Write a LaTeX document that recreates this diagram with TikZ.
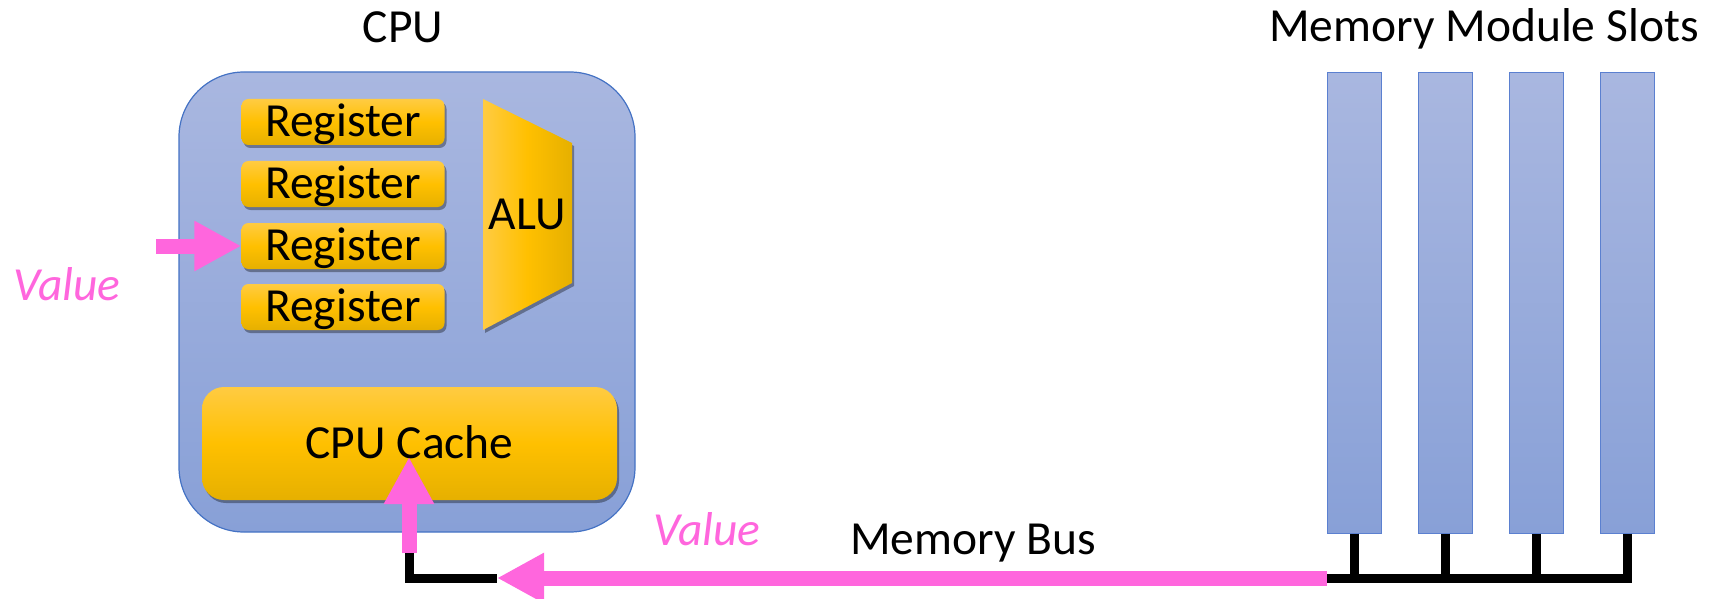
\documentclass[tikz,border=0pt]{standalone}
\usepackage{fontspec}
\setmainfont{Carlito}
\usetikzlibrary{arrows.meta,shadows,calc}
\definecolor{cpuTop}{HTML}{A9B7E0}
\definecolor{cpuBot}{HTML}{88A0D7}
\definecolor{edgeblue}{HTML}{4472C4}
\definecolor{slotedge}{HTML}{5B80D0}
\definecolor{goldTop}{HTML}{FFCB42}
\definecolor{goldMid}{HTML}{FFC000}
\definecolor{goldBot}{HTML}{E6B000}
\definecolor{pinkv}{HTML}{FF66DD}
\begin{document}
\begin{tikzpicture}[x=1pt,y=-1pt,
  lbl/.style={font=\fontsize{47.5}{52}\selectfont, inner sep=0pt},
  valtxt/.style={font=\fontsize{47.5}{52}\selectfont\itshape, text=pinkv, inner sep=0pt},
  cpubox/.style={draw=edgeblue, line width=1.2pt, top color=cpuTop, bottom color=cpuBot, rounded corners=65pt},
  goldshadow/.style={drop shadow={shadow xshift=2pt, shadow yshift=-3pt, opacity=0.35, fill=black}},
  regbox/.style={goldshadow, top color=goldTop, bottom color=goldBot, middle color=goldMid, rounded corners=7pt,
    minimum width=203pt, minimum height=46pt, inner sep=0pt, text height=29pt, text depth=0pt,
    font=\fontsize{47.5}{52}\selectfont},
  cachebox/.style={goldshadow, top color=goldTop, bottom color=goldBot, middle color=goldMid, rounded corners=22pt,
    minimum width=415pt, minimum height=113pt, inner sep=0pt, text height=29pt, text depth=0pt,
    font=\fontsize{47.5}{52}\selectfont},
  slotbox/.style={draw=slotedge, line width=1pt, top color=cpuTop, bottom color=cpuBot,
    minimum width=54pt, minimum height=460pt, inner sep=0pt},
  pinkarrow/.style={draw=pinkv, line width=15pt, -{Triangle[length=47pt, width=47pt]}},
  busline/.style={draw=black, line width=9pt},
]
\useasboundingbox (0,0) rectangle (1709,599);

% titles
\node[lbl, anchor=base] (cputitle) at (403,43) {CPU};
\node[lbl, anchor=base] (memtitle) at (1484,42) {Memory Module Slots};

% CPU
\node[cpubox, minimum width=456pt, minimum height=460pt] (cpu) at (407,302) {};
\node[regbox] (r1) at (343,122) {Register};
\node[regbox] (r2) at (343,184) {Register};
\node[regbox] (r3) at (343,246) {Register};
\node[regbox] (r4) at (343,307) {Register};
\path[goldshadow, left color=goldTop, right color=goldBot, middle color=goldMid]
  (483,99) -- (572,143) -- (572,283) -- (483,330) -- cycle;
\node[lbl] (alu) at (527,214) {ALU};
\node[cachebox] (cache) at (409.5,443.5) {CPU Cache};

% memory slots
\node[slotbox] (s1) at (1354,303) {};
\node[slotbox] (s2) at (1445.5,303) {};
\node[slotbox] (s3) at (1536,303) {};
\node[slotbox] (s4) at (1627.5,303) {};

\coordinate (busY) at (0,578);
\draw[busline] (s1.south) -- (s1.south|-busY);
\draw[busline] (s2.south) -- (s2.south|-busY);
\draw[busline] (s3.south) -- (s3.south|-busY);
\draw[busline] (s4.south) |- (s1.south west|-busY);

% value path
\coordinate (vin) at (156,246);
\draw[pinkarrow] (vin) -- (r3.west);
\node[valtxt, anchor=base] (v1) at (67,300) {Value};

\coordinate (up0) at (409,553);
\coordinate (upTip) at (409,457);
\coordinate (htip) at (497,578);
\draw[busline] (up0) |- (htip);
\draw[pinkarrow] (up0) -- (upTip);
\draw[pinkarrow] (s1.south west|-busY) -- (htip);

\node[valtxt, anchor=base] (v2) at (707,545) {Value};
\node[lbl, anchor=base] (bus) at (973,554) {Memory Bus};
\end{tikzpicture}
\end{document}
